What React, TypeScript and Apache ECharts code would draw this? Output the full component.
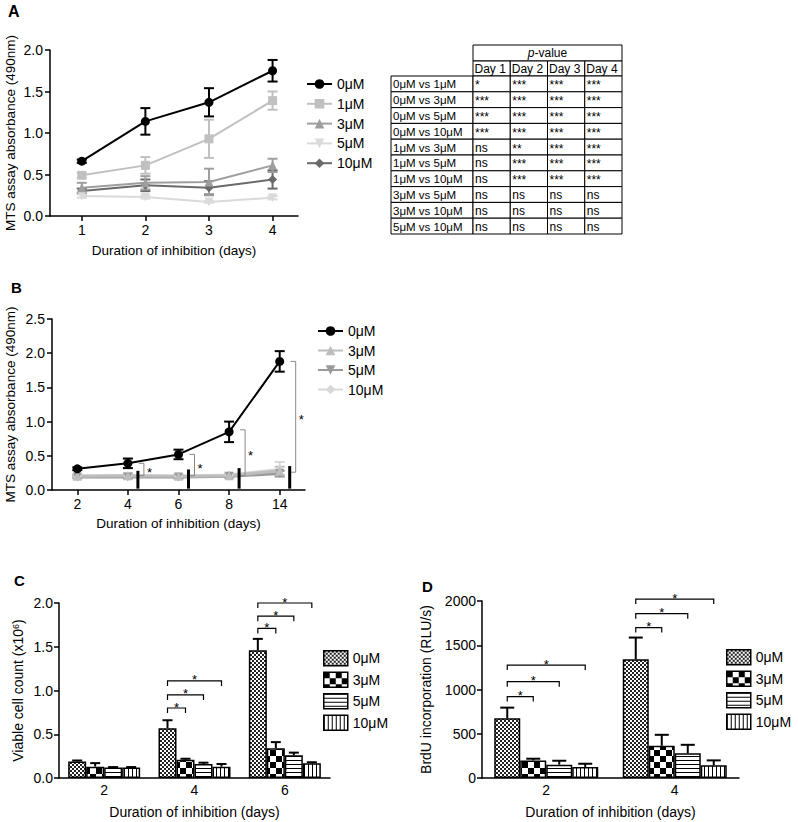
import React, { useEffect, useRef } from "react";
import * as echarts from "echarts";

const FONT = "'Liberation Sans', Arial, Helvetica, sans-serif";

// ---------- Panel A ----------
const aDays = [1, 2, 3, 4];
const aNames = ["0μM", "1μM", "3μM", "5μM", "10μM"];
const a0 = [0.66, 1.14, 1.37, 1.75];
const a0Err = [0.02, 0.16, 0.17, 0.13];
const a1 = [0.49, 0.61, 0.93, 1.39];
const a1Err = [0.03, 0.1, 0.23, 0.11];
const a3 = [0.34, 0.4, 0.41, 0.61];
const a3Err = [0.06, 0.08, 0.16, 0.08];
const a5 = [0.24, 0.23, 0.17, 0.22];
const a5Err = [0.02, 0.02, 0.01, 0.02];
const a10 = [0.3, 0.37, 0.34, 0.44];
const a10Err = [0.03, 0.07, 0.08, 0.11];

// ---------- Table ----------
const tableDays = ["Day 1", "Day 2", "Day 3", "Day 4"];
const tableRows = [
  "0μM vs 1μM",
  "0μM vs 3μM",
  "0μM vs 5μM",
  "0μM vs 10μM",
  "1μM vs 3μM",
  "1μM vs 5μM",
  "1μM vs 10μM",
  "3μM vs 5μM",
  "3μM vs 10μM",
  "5μM vs 10μM",
];
const tableValues = [
  ["*", "***", "***", "***"],
  ["***", "***", "***", "***"],
  ["***", "***", "***", "***"],
  ["***", "***", "***", "***"],
  ["ns", "**", "***", "***"],
  ["ns", "***", "***", "***"],
  ["ns", "***", "***", "***"],
  ["ns", "ns", "ns", "ns"],
  ["ns", "ns", "ns", "ns"],
  ["ns", "ns", "ns", "ns"],
];

// ---------- Panel B ----------
const bDays = ["2", "4", "6", "8", "14"];
const bNames = ["0μM", "3μM", "5μM", "10μM"];
const b0 = [0.31, 0.39, 0.52, 0.85, 1.88];
const b0Err = [0.02, 0.07, 0.07, 0.15, 0.15];
const b3 = [0.2, 0.21, 0.2, 0.21, 0.28];
const b3Err = [0.02, 0.03, 0.02, 0.02, 0.06];
const b5 = [0.19, 0.19, 0.19, 0.2, 0.24];
const b5Err = [0.02, 0.02, 0.02, 0.02, 0.04];
const b10 = [0.21, 0.21, 0.2, 0.22, 0.3];
const b10Err = [0.02, 0.03, 0.03, 0.03, 0.11];
const bSigCat = [1, 2, 3, 4];
const bSigTop = [0.39, 0.52, 0.88, 1.88];
const bSigBottom = [0.21, 0.21, 0.21, 0.26];
const bMarkTop = [0.28, 0.3, 0.32, 0.35];

// ---------- Panel C ----------
const cDays = ["2", "4", "6"];
const cNames = ["0μM", "3μM", "5μM", "10μM"];
const c0 = [0.19, 0.57, 1.46];
const c0Err = [0.01, 0.09, 0.13];
const c3 = [0.13, 0.21, 0.34];
const c3Err = [0.04, 0.01, 0.07];
const c5 = [0.12, 0.16, 0.26];
const c5Err = [0.005, 0.015, 0.03];
const c10 = [0.12, 0.13, 0.17];
const c10Err = [0.005, 0.03, 0.01];
const cSigCat = [1, 1, 1, 2, 2, 2];
const cSigTo = [1, 2, 3, 1, 2, 3];
const cSigY = [0.8, 0.95, 1.11, 1.71, 1.85, 2.0];

// ---------- Panel D ----------
const dDays = ["2", "4"];
const dNames = ["0μM", "3μM", "5μM", "10μM"];
const d0 = [675, 1343];
const d0Err = [120, 244];
const d3 = [199, 364];
const d3Err = [19, 124];
const d5 = [150, 281];
const d5Err = [45, 94];
const d10 = [124, 143];
const d10Err = [37, 56];
const dSigCat = [0, 0, 0, 1, 1, 1];
const dSigTo = [1, 2, 3, 1, 2, 3];
const dSigY = [920, 1088, 1276, 1700, 1857, 2022];

function mkPattern(kind: string) {
  const c = document.createElement("canvas");
  let w = 4,
    h = 4;
  if (kind === "checkLarge") {
    w = 12;
    h = 12;
  }
  c.width = w;
  c.height = h;
  const g = c.getContext("2d")!;
  g.fillStyle = "#fff";
  g.fillRect(0, 0, w, h);
  g.fillStyle = "#000";
  if (kind === "checkFine") {
    g.fillStyle = "#222";
    g.fillRect(0, 0, 2, 2);
    g.fillRect(2, 2, 2, 2);
  } else if (kind === "checkLarge") {
    g.fillRect(0, 0, 6, 6);
    g.fillRect(6, 6, 6, 6);
  } else if (kind === "hlines") {
    g.fillRect(0, 0, w, 1);
  } else if (kind === "vlines") {
    g.fillRect(0, 0, 1, h);
  }
  return { image: c, repeat: "repeat", imageWidth: w, imageHeight: h };
}

const axisLine = { show: true, lineStyle: { color: "#000", width: 1.5 } };
const axisTick = { show: true, length: 5, lineStyle: { color: "#000", width: 1.5 } };
const axisLabel = { color: "#000", fontSize: 14, fontFamily: FONT };
const nameStyle = (size: number) => ({ color: "#000", fontSize: size, fontFamily: FONT });

function errSeries(idx: number, xs: number[], ms: number[], es: number[], color: string, cap: number, lw: number) {
  return {
    type: "custom",
    xAxisIndex: idx,
    yAxisIndex: idx,
    clip: false,
    silent: true,
    data: xs.map((x, i) => [x, ms[i], es[i]]),
    renderItem: (_p: any, api: any) => {
      const x = api.value(0),
        m = api.value(1),
        e = api.value(2);
      const t = api.coord([x, m + e]);
      const b = api.coord([x, m - e]);
      const st = { stroke: color, lineWidth: lw };
      return {
        type: "group",
        children: [
          { type: "line", shape: { x1: t[0], y1: t[1], x2: b[0], y2: b[1] }, style: st },
          { type: "line", shape: { x1: t[0] - cap, y1: t[1], x2: t[0] + cap, y2: t[1] }, style: st },
          { type: "line", shape: { x1: b[0] - cap, y1: b[1], x2: b[0] + cap, y2: b[1] }, style: st },
        ],
      };
    },
  };
}

function lineSeries(name: string, idx: number, data: any[], color: string, symbol: string, rotate: number, width: number) {
  return {
    type: "line",
    name,
    xAxisIndex: idx,
    yAxisIndex: idx,
    data,
    symbol,
    symbolSize: 9,
    symbolRotate: rotate,
    showSymbol: true,
    silent: true,
    lineStyle: { color, width },
    itemStyle: { color },
  };
}

function barErrSeries(idx: number, vals: number[][], errs: number[][], bw: number, cap: number) {
  const data: number[][] = [];
  vals.forEach((arr, s) => arr.forEach((v, c) => data.push([c, v, errs[s][c], s])));
  return {
    type: "custom",
    xAxisIndex: idx,
    yAxisIndex: idx,
    clip: false,
    silent: true,
    z: 5,
    data,
    renderItem: (_p: any, api: any) => {
      const c = api.value(0),
        v = api.value(1),
        e = api.value(2),
        s = api.value(3);
      const p = api.coord([c, v]);
      const t = api.coord([c, v + e]);
      const x = p[0] + (s - 1.5) * bw;
      const st = { stroke: "#000", lineWidth: 2 };
      return {
        type: "group",
        children: [
          { type: "line", shape: { x1: x, y1: p[1], x2: x, y2: t[1] }, style: st },
          { type: "line", shape: { x1: x - cap, y1: t[1], x2: x + cap, y2: t[1] }, style: st },
        ],
      };
    },
  };
}

function bracketSeries(idx: number, cats: number[], tos: number[], ys: number[], bw: number) {
  return {
    type: "custom",
    xAxisIndex: idx,
    yAxisIndex: idx,
    clip: false,
    silent: true,
    z: 5,
    data: cats.map((c, i) => [c, tos[i], ys[i]]),
    renderItem: (_p: any, api: any) => {
      const c = api.value(0),
        to = api.value(1),
        y = api.value(2);
      const p = api.coord([c, y]);
      const x1 = p[0] - 1.5 * bw;
      const x2 = p[0] + (to - 1.5) * bw;
      return {
        type: "group",
        children: [
          {
            type: "polyline",
            shape: { points: [[x1, p[1] + 5], [x1, p[1]], [x2, p[1]], [x2, p[1] + 5]] },
            style: { stroke: "#000", lineWidth: 1.2, fill: "none" },
          },
          {
            type: "text",
            style: {
              text: "*",
              x: (x1 + x2) / 2,
              y: p[1] - 1,
              align: "center",
              verticalAlign: "middle",
              fontSize: 13,
              fontFamily: FONT,
              fill: "#000",
            },
          },
        ],
      };
    },
  };
}

function bSigSeries() {
  return {
    type: "custom",
    xAxisIndex: 1,
    yAxisIndex: 1,
    clip: false,
    silent: true,
    z: 5,
    data: bSigCat.map((c, i) => [c, bSigTop[i], bSigBottom[i], bMarkTop[i]]),
    renderItem: (_p: any, api: any) => {
      const c = api.value(0),
        top = api.value(1),
        bot = api.value(2),
        mt = api.value(3);
      const pT = api.coord([c, top]);
      const pB = api.coord([c, bot]);
      const pM = api.coord([c, mt]);
      const p0 = api.coord([c, 0.02]);
      const bx = pT[0] + 16;
      const mx = pT[0] + 10;
      return {
        type: "group",
        children: [
          {
            type: "polyline",
            shape: { points: [[bx - 5, pT[1]], [bx, pT[1]], [bx, pB[1]], [bx - 6, pB[1]]] },
            style: { stroke: "#888", lineWidth: 1, fill: "none" },
          },
          { type: "line", shape: { x1: mx, y1: pM[1], x2: mx, y2: p0[1] }, style: { stroke: "#000", lineWidth: 3 } },
          {
            type: "text",
            style: {
              text: "*",
              x: bx + 3,
              y: (pT[1] + pB[1]) / 2 + 3,
              align: "left",
              verticalAlign: "middle",
              fontSize: 13,
              fontFamily: FONT,
              fill: "#000",
            },
          },
        ],
      };
    },
  };
}

function buildGraphic() {
  const els: any[] = [];
  const letter = (t: string, x: number, y: number, s: number) =>
    els.push({
      type: "text",
      style: { text: t, x, y, fontSize: s, fontWeight: "bold", fontFamily: FONT, fill: "#000", verticalAlign: "top" },
    });
  letter("A", 8, 3, 16);
  letter("B", 11, 280, 15);
  letter("C", 14, 573, 15);
  letter("D", 422, 579, 15);

  const x0 = 391,
    xc = 473,
    cw = 37.25,
    head1 = 45,
    head2 = 61,
    body = 76,
    rh = 15.8;
  const cell = (x: number, y: number, w: number, h: number) =>
    els.push({ type: "rect", shape: { x, y, width: w, height: h }, style: { fill: "#fff", stroke: "#000", lineWidth: 1 } });
  const txt = (t: string, x: number, y: number, size = 12) =>
    els.push({
      type: "text",
      style: { text: t, x, y, fontSize: size, fontFamily: FONT, fill: "#000", align: "left", verticalAlign: "middle" },
    });
  cell(xc, head1, cw * 4, head2 - head1);
  els.push({
    type: "text",
    style: {
      text: "{i|p}-value",
      x: xc + cw * 2,
      y: (head1 + head2) / 2,
      align: "center",
      verticalAlign: "middle",
      fontSize: 12,
      fontFamily: FONT,
      fill: "#000",
      rich: { i: { fontStyle: "italic", fontSize: 12, fontFamily: FONT, fill: "#000" } },
    },
  });
  tableDays.forEach((d, j) => {
    cell(xc + j * cw, head2, cw, body - head2);
    txt(d, xc + j * cw + 1.5, (head2 + body) / 2 + 0.5);
  });
  tableRows.forEach((r, i) => {
    const y = body + i * rh;
    cell(x0, y, xc - x0, rh);
    txt(r, x0 + 2, y + rh / 2 + 0.5, 11.5);
    tableValues[i].forEach((v, j) => {
      cell(xc + j * cw, y, cw, rh);
      txt(v, xc + j * cw + 2, y + rh / 2 + (v.startsWith("*") ? 1.5 : 0.5));
    });
  });
  return els;
}

export default function App() {
  const ref = useRef<HTMLDivElement>(null);
  useEffect(() => {
    document.body.style.margin = "0";
    if (!ref.current) return;
    const chart = echarts.init(ref.current, null, { renderer: "svg" });
    const pats = [mkPattern("checkFine"), mkPattern("checkLarge"), mkPattern("hlines"), mkPattern("vlines")];
    const cVals = [c0, c3, c5, c10];
    const cErrs = [c0Err, c3Err, c5Err, c10Err];
    const dVals = [d0, d3, d5, d10];
    const dErrs = [d0Err, d3Err, d5Err, d10Err];
    const cBW = 18;
    const dBW = 26;
    const pair = (xs: any[], ys: number[]) => xs.map((x, i) => [x, ys[i]]);

    const aColors = ["#000000", "#c0c0c0", "#9e9e9e", "#dadada", "#6a6a6a"];
    const aSymbols = ["circle", "rect", "triangle", "triangle", "diamond"];
    const aRot = [0, 0, 0, 180, 0];
    const aVals = [a0, a1, a3, a5, a10];
    const aErrs = [a0Err, a1Err, a3Err, a5Err, a10Err];
    const bColors = ["#000000", "#bdbdbd", "#9a9a9a", "#d8d8d8"];
    const bSymbols = ["circle", "triangle", "triangle", "diamond"];
    const bRot = [0, 0, 180, 0];
    const bVals = [b0, b3, b5, b10];
    const bErrs = [b0Err, b3Err, b5Err, b10Err];
    const bIdx = bDays.map((_d, i) => i);

    const series: any[] = [];
    // A
    const aOrder = [4, 3, 2, 1, 0];
    aOrder.forEach((k) => series.push(errSeries(0, aDays, aVals[k], aErrs[k], aColors[k], 5, 2)));
    aOrder.forEach((k) =>
      series.push(lineSeries("A|" + aNames[k], 0, pair(aDays, aVals[k]), aColors[k], aSymbols[k], aRot[k], 2))
    );
    // B
    const bOrder = [3, 2, 1, 0];
    bOrder.forEach((k) => series.push(errSeries(1, bIdx, bVals[k], bErrs[k], bColors[k], 5, 2)));
    bOrder.forEach((k) =>
      series.push(lineSeries("B|" + bNames[k], 1, pair(bIdx, bVals[k]), bColors[k], bSymbols[k], bRot[k], k === 0 ? 2 : 3))
    );
    series.push(bSigSeries());
    // C
    cVals.forEach((v, s) =>
      series.push({
        type: "bar",
        name: "C|" + cNames[s],
        xAxisIndex: 2,
        yAxisIndex: 2,
        data: v,
        barWidth: cBW,
        barGap: "0%",
        silent: true,
        itemStyle: { color: pats[s], borderColor: "#000", borderWidth: 1.5 },
      })
    );
    series.push(barErrSeries(2, cVals, cErrs, cBW, 5));
    series.push(bracketSeries(2, cSigCat, cSigTo, cSigY, cBW));
    // D
    dVals.forEach((v, s) =>
      series.push({
        type: "bar",
        name: "D|" + dNames[s],
        xAxisIndex: 3,
        yAxisIndex: 3,
        data: v,
        barWidth: dBW,
        barGap: "0%",
        silent: true,
        itemStyle: { color: pats[s], borderColor: "#000", borderWidth: 1.5 },
      })
    );
    series.push(barErrSeries(3, dVals, dErrs, dBW, 7));
    series.push(bracketSeries(3, dSigCat, dSigTo, dSigY, dBW));

    const legendBase = {
      orient: "vertical",
      selectedMode: false,
      formatter: (n: string) => n.split("|")[1],
      textStyle: { fontSize: 14, color: "#000", fontFamily: FONT },
      padding: 0,
    };

    const option: any = {
      animation: false,
      textStyle: { fontFamily: FONT },
      graphic: buildGraphic(),
      grid: [
        { left: 50, top: 50, width: 248, height: 166 },
        { left: 52, top: 319, width: 253, height: 171 },
        { left: 59, top: 603, width: 271, height: 175 },
        { left: 482, top: 601, width: 257, height: 177 },
      ],
      xAxis: [
        {
          type: "value",
          gridIndex: 0,
          min: 0.5,
          max: 4.4,
          axisLine,
          axisTick: { ...axisTick, customValues: aDays },
          axisLabel: { ...axisLabel, customValues: aDays, margin: 7 },
          splitLine: { show: false },
          name: "Duration of inhibition (days)",
          nameLocation: "middle",
          nameGap: 27,
          nameTextStyle: nameStyle(13.5),
        },
        {
          type: "category",
          gridIndex: 1,
          data: bDays,
          boundaryGap: true,
          axisLine,
          axisTick: { ...axisTick, alignWithLabel: true },
          axisLabel: { ...axisLabel, margin: 7 },
          splitLine: { show: false },
          name: "Duration of inhibition (days)",
          nameLocation: "middle",
          nameGap: 26,
          nameTextStyle: nameStyle(13.5),
        },
        {
          type: "category",
          gridIndex: 2,
          data: cDays,
          axisLine,
          axisTick: { show: false },
          axisLabel: { ...axisLabel, margin: 5 },
          splitLine: { show: false },
          name: "Duration of inhibition (days)",
          nameLocation: "middle",
          nameGap: 27,
          nameTextStyle: nameStyle(14),
        },
        {
          type: "category",
          gridIndex: 3,
          data: dDays,
          axisLine,
          axisTick: { show: false },
          axisLabel: { ...axisLabel, margin: 5 },
          splitLine: { show: false },
          name: "Duration of inhibition (days)",
          nameLocation: "middle",
          nameGap: 27,
          nameTextStyle: nameStyle(14),
        },
      ],
      yAxis: [
        {
          type: "value",
          gridIndex: 0,
          min: 0,
          max: 2,
          interval: 0.5,
          axisLine,
          axisTick,
          axisLabel: { ...axisLabel, margin: 7, formatter: (v: number) => v.toFixed(1) },
          splitLine: { show: false },
          name: "MTS assay absorbance (490nm)",
          nameLocation: "middle",
          nameGap: 33,
          nameTextStyle: nameStyle(13.5),
        },
        {
          type: "value",
          gridIndex: 1,
          min: 0,
          max: 2.5,
          interval: 0.5,
          axisLine,
          axisTick,
          axisLabel: { ...axisLabel, margin: 7, formatter: (v: number) => v.toFixed(1) },
          splitLine: { show: false },
          name: "MTS assay absorbance (490nm)",
          nameLocation: "middle",
          nameGap: 35,
          nameTextStyle: nameStyle(13.5),
        },
        {
          type: "value",
          gridIndex: 2,
          min: 0,
          max: 2,
          interval: 0.5,
          axisLine,
          axisTick,
          axisLabel: { ...axisLabel, margin: 6, formatter: (v: number) => v.toFixed(1) },
          splitLine: { show: false },
          name: "Viable cell count (x10{sup|6})",
          nameLocation: "middle",
          nameGap: 34,
          nameTextStyle: {
            ...nameStyle(14),
            rich: { sup: { fontSize: 9, verticalAlign: "top", color: "#000", fontFamily: FONT } },
          },
        },
        {
          type: "value",
          gridIndex: 3,
          min: 0,
          max: 2000,
          interval: 500,
          axisLine,
          axisTick,
          axisLabel: { ...axisLabel, margin: 6, formatter: (v: number) => String(v) },
          splitLine: { show: false },
          name: "BrdU incorporation (RLU/s)",
          nameLocation: "middle",
          nameGap: 49,
          nameTextStyle: nameStyle(14),
        },
      ],
      legend: [
        {
          ...legendBase,
          left: 306,
          top: 77,
          itemWidth: 25,
          itemHeight: 12,
          itemGap: 5.8,
          data: aNames.map((n) => "A|" + n),
        },
        {
          ...legendBase,
          left: 317,
          top: 324,
          itemWidth: 25,
          itemHeight: 12,
          itemGap: 5.5,
          data: bNames.map((n) => "B|" + n),
        },
        {
          ...legendBase,
          left: 323,
          top: 650,
          icon: "rect",
          itemWidth: 24,
          itemHeight: 15,
          itemGap: 5,
          itemStyle: { borderColor: "#000", borderWidth: 1.5 },
          data: cNames.map((n) => "C|" + n),
        },
        {
          ...legendBase,
          left: 726,
          top: 649,
          icon: "rect",
          itemWidth: 24,
          itemHeight: 15,
          itemGap: 5,
          itemStyle: { borderColor: "#000", borderWidth: 1.5 },
          data: dNames.map((n) => "D|" + n),
        },
      ],
      series,
    };
    chart.setOption(option);
    return () => chart.dispose();
  }, []);
  return <div ref={ref} style={{ width: 798, height: 822 }} />;
}
